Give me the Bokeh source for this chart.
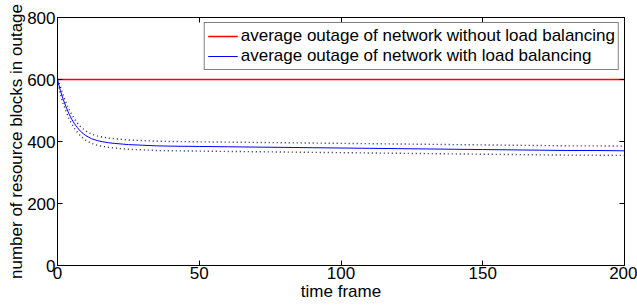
from bokeh.plotting import figure
from bokeh.models import Range1d, LinearAxis, FixedTicker, Legend, LegendItem, CustomJSTickFormatter
from bokeh.embed import file_html
from bokeh.resources import INLINE

# ---- data ----
time_frame = [0, 1, 2, 3, 4, 5, 6, 7, 8, 9, 10, 12, 14, 16, 18, 20, 25, 30, 35, 40,
              50, 60, 70, 80, 90, 100, 110, 120, 130, 140, 150, 160, 170, 180, 190, 200]
with_lb = [600, 565, 536, 512, 490, 472, 457, 445, 434, 426, 419, 409, 403, 399, 396, 394,
           390, 388, 386, 385, 384, 383, 382, 381, 380, 379, 378, 377, 376, 375, 374,
           373, 372, 371, 371, 370]
with_lb_upper = [600, 578, 550, 526, 505, 487, 472, 460, 449, 441, 434, 424, 418, 414, 411, 409,
                 405, 403, 401, 400, 399, 398, 397, 396, 395, 394, 393, 392, 391, 390, 389,
                 388, 387, 386, 386, 385]
with_lb_lower = [600, 552, 522, 498, 475, 457, 442, 430, 419, 411, 404, 394, 388, 384, 381, 379,
                 375, 373, 371, 370, 369, 368, 367, 366, 365, 364, 363, 362, 361, 360, 359,
                 358, 357, 356, 356, 355]
without_t = [0, 200]
without_lb = [600, 600]

x_ticks = [0, 50, 100, 150, 200]
y_ticks = [0, 200, 400, 600, 800]

FONT = "Liberation Sans"
FS = "17px"

p = figure(width=637, height=305, output_backend="svg", toolbar_location=None,
           x_range=Range1d(0, 200), y_range=Range1d(0, 800))
p.min_border_left = 57
p.min_border_right = 13
p.min_border_top = 17
p.min_border_bottom = 40
p.background_fill_color = "white"
p.border_fill_color = "white"
p.outline_line_color = "black"
p.outline_line_width = 1
p.grid.visible = False

for ax in p.xaxis + p.yaxis:
    ax.major_tick_in = 5
    ax.major_tick_out = 0
    ax.minor_tick_line_color = None
    ax.axis_line_color = "black"
    ax.major_label_text_font = FONT
    ax.major_label_text_font_size = FS
    ax.major_label_text_color = "black"
    ax.axis_label_text_font = FONT
    ax.axis_label_text_font_size = FS
    ax.axis_label_text_font_style = "normal"
    ax.axis_label_text_color = "black"

p.xaxis.ticker = FixedTicker(ticks=x_ticks)
p.yaxis.ticker = FixedTicker(ticks=y_ticks)
p.xaxis.axis_label = "time frame"
p.yaxis.axis_label = "number of resource blocks in outage"
p.xaxis.major_label_standoff = 1
p.xaxis.axis_label_standoff = 0
p.yaxis.major_label_standoff = 2
p.yaxis.axis_label_standoff = -2

blank = CustomJSTickFormatter(code="return '';")
top = LinearAxis(ticker=FixedTicker(ticks=x_ticks), major_tick_in=5, major_tick_out=0,
                 minor_tick_line_color=None, formatter=blank, major_label_standoff=0)
right = LinearAxis(ticker=FixedTicker(ticks=y_ticks), major_tick_in=5, major_tick_out=0,
                   minor_tick_line_color=None, formatter=blank, major_label_standoff=0)
p.add_layout(top, "above")
p.add_layout(right, "right")

r_red = p.line(without_t, without_lb, line_color="#ff0000", line_width=1.3)
p.line(time_frame, with_lb_upper, line_color="#1a1a5e", line_width=1.4, line_dash="1 3")
p.line(time_frame, with_lb_lower, line_color="#1a1a5e", line_width=1.4, line_dash="1 3")
r_blue = p.line(time_frame, with_lb, line_color="#0000ff", line_width=1)

legend = Legend(items=[
    LegendItem(label="average outage of network without load balancing", renderers=[r_red]),
    LegendItem(label="average outage of network with load balancing", renderers=[r_blue]),
], location="top_right")
legend.margin = 5
legend.padding = 3
legend.spacing = 0
legend.label_height = 20
legend.glyph_height = 20
legend.glyph_width = 30
legend.label_standoff = 3
legend.label_text_font = FONT
legend.label_text_font_size = FS
legend.label_text_color = "black"
legend.border_line_color = "black"
legend.border_line_width = 1
legend.background_fill_color = "white"
legend.background_fill_alpha = 1
p.add_layout(legend)

open("out.html", "w").write(file_html(p, INLINE))
